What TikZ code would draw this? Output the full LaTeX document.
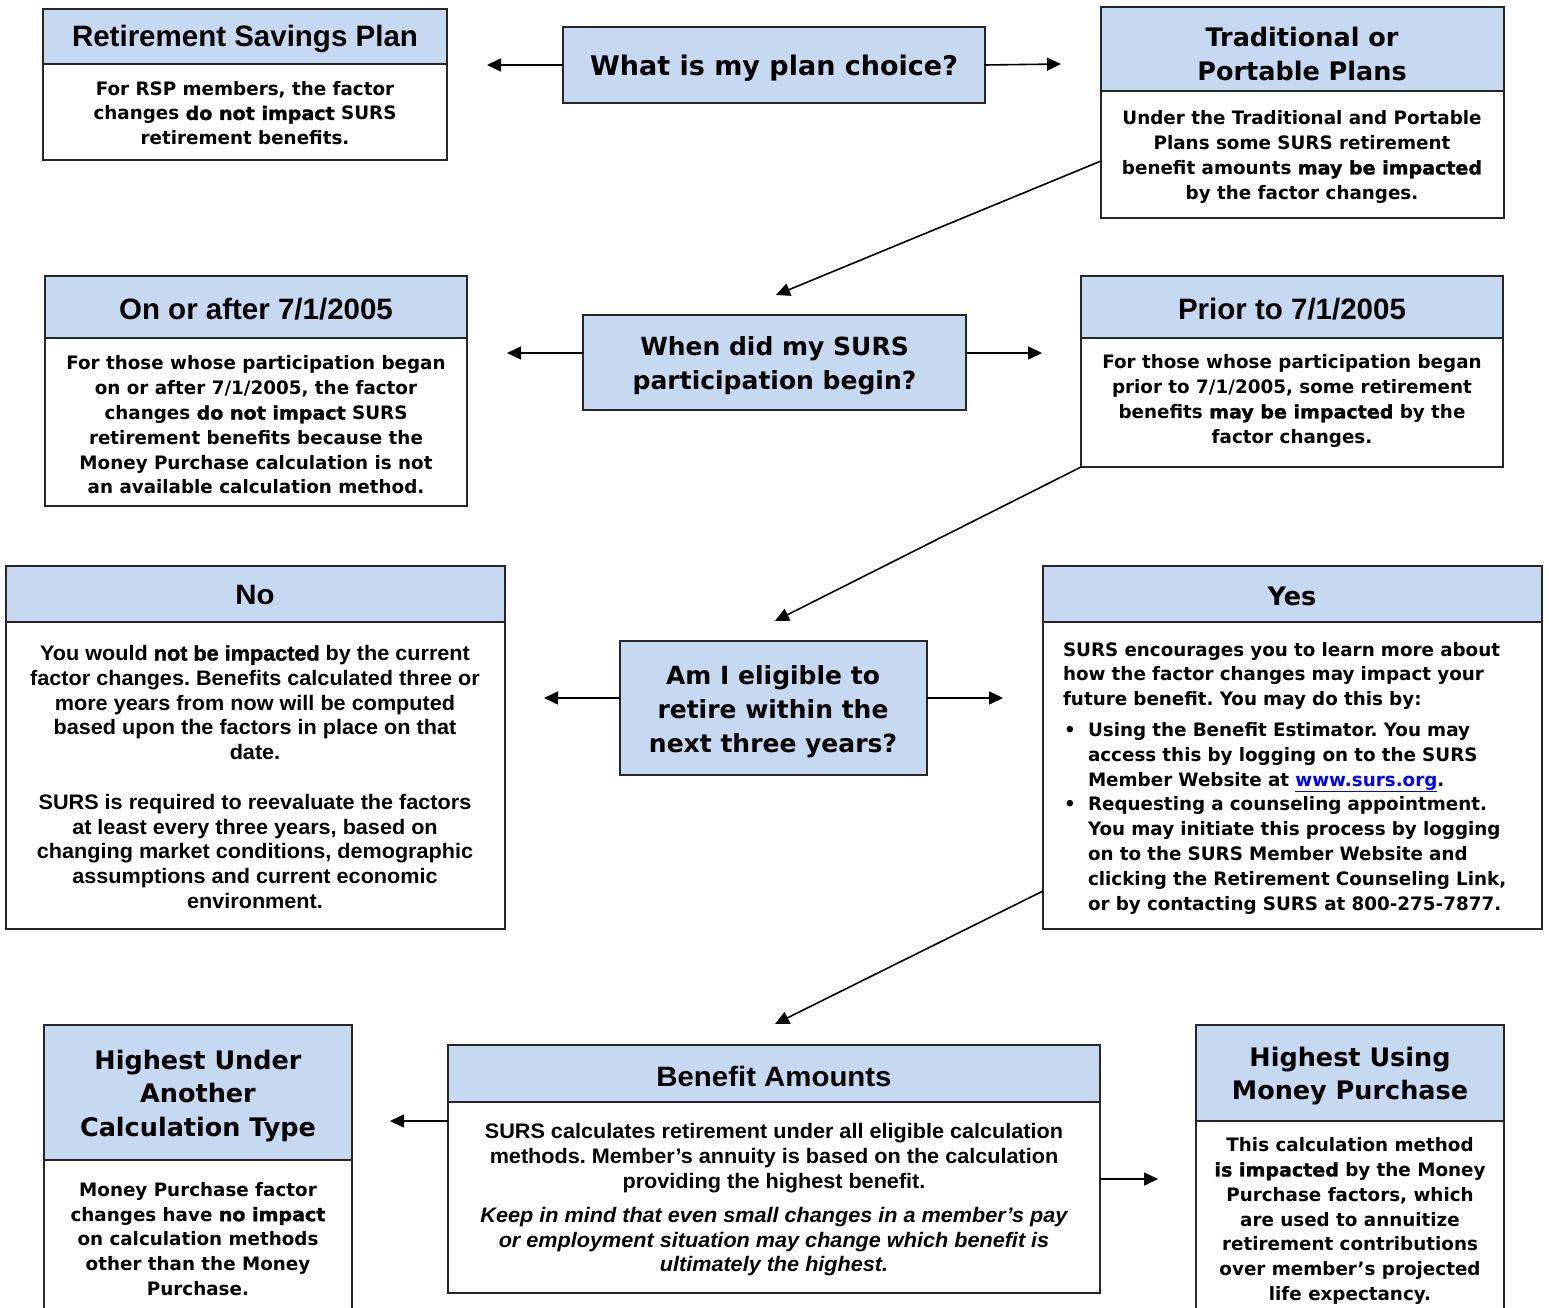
\documentclass[tikz,border=0pt]{standalone}
\usepackage{fontspec}
\usetikzlibrary{arrows.meta}
\setmainfont{DejaVu Sans}
\frenchspacing
\newfontfamily\tah{DejaVu Sans Bold}[FakeStretch=0.99]
\newfontfamily\tahem{DejaVu Sans Bold}[FakeStretch=1.03,FakeBold=1.6]
\newfontfamily\tahq{DejaVu Sans Bold}[FakeStretch=1.0]
\newfontfamily\ari{Liberation Sans Bold}
\newfontfamily\nar{Liberation Sans Bold}[FakeStretch=1.03]
\newfontfamily\narH{Liberation Sans Bold}[FakeStretch=1.05]
\newfontfamily\narem{Liberation Sans Bold}[FakeStretch=1.03,FakeBold=1.6]
\newfontfamily\narit{Liberation Sans Bold Italic}[FakeStretch=1.03]
\newcommand\emT[1]{{\tahem #1}}
\newcommand\emN[1]{{\narem #1}}
\newcommand\itN[1]{{\narit #1}}
\newcommand\fBody{\tah\fontsize{18.5}{24.8}\selectfont\frenchspacing}
\newcommand\fNar{\nar\fontsize{21}{24.8}\selectfont\frenchspacing}
\newcommand\fQ{\tahq\fontsize{25}{34}\selectfont}
\newcommand\fWhat{\tahq\fontsize{27}{34}\selectfont}
\newcommand\fHead{\tahq\fontsize{25.5}{33.5}\selectfont}
\newcommand\fAri{\ari\fontsize{29.5}{30}\selectfont}
\newcommand\fNarH{\narH\fontsize{28}{30}\selectfont}
\definecolor{hblue}{RGB}{198,217,241}
\definecolor{linkblue}{RGB}{0,0,255}
\tikzset{
  box/.style={draw=black!85, line width=1.8pt, inner sep=0pt, outer sep=0pt, anchor=north west},
  hdr/.style={box, fill=hblue},
  bodybox/.style={box, fill=white},
  qbox/.style={box, fill=hblue},
  txt/.style={align=center, inner sep=0pt, text=black},
  arr/.style={line width=1.6pt, draw=black, -{Triangle[length=14pt,width=13pt]}}
}
\begin{document}
\begin{tikzpicture}[x=1pt,y=-1pt]
\useasboundingbox (0,0) rectangle (1549,1308);
\clip (0,0) rectangle (1549,1308);
\fill[white] (0,0) rectangle (1549,1308);

% boxes
\node[bodybox, minimum width=404pt, minimum height=96pt] (rspb) at (43,64) {};
\node[hdr, minimum width=404pt, minimum height=55pt] (rsph) at (43,9) {};
\node[qbox, minimum width=422pt, minimum height=76pt] (what) at (563,27) {};
\node[bodybox, minimum width=403pt, minimum height=127pt] (tradb) at (1101,91) {};
\node[hdr, minimum width=403pt, minimum height=84pt] (tradh) at (1101,7) {};
\node[bodybox, minimum width=422pt, minimum height=168pt] (onb) at (45,338) {};
\node[hdr, minimum width=422pt, minimum height=62pt] (onh) at (45,276) {};
\node[qbox, minimum width=383pt, minimum height=95pt] (when) at (583,315) {};
\node[bodybox, minimum width=422pt, minimum height=129pt] (prb) at (1081,338) {};
\node[hdr, minimum width=422pt, minimum height=62pt] (prh) at (1081,276) {};
\node[bodybox, minimum width=499pt, minimum height=307pt] (nob) at (6,622) {};
\node[hdr, minimum width=499pt, minimum height=56pt] (noh) at (6,566) {};
\node[qbox, minimum width=307pt, minimum height=134pt] (am) at (620,641) {};
\node[bodybox, minimum width=499pt, minimum height=307pt] (yesb) at (1043,622) {};
\node[hdr, minimum width=499pt, minimum height=56pt] (yesh) at (1043,566) {};
\node[bodybox, minimum width=308pt, minimum height=170pt] (hub) at (44,1160) {};
\node[hdr, minimum width=308pt, minimum height=135pt] (huh) at (44,1025) {};
\node[bodybox, minimum width=652pt, minimum height=191pt] (benb) at (448,1102) {};
\node[hdr, minimum width=652pt, minimum height=57pt] (benh) at (448,1045) {};
\node[bodybox, minimum width=308pt, minimum height=210pt] (hmb) at (1196,1121) {};
\node[hdr, minimum width=308pt, minimum height=96pt] (hmh) at (1196,1025) {};

% texts
\node[txt, font=\fAri] (rspht) at (245,39) {Retirement Savings Plan};
\node[txt, font=\fBody] (rspbt) at (245,113) {For RSP members, the factor\\changes \emT{do not impact} SURS\\retirement benefits.};
\node[txt, font=\fWhat] (whatt) at (774,68) {What is my plan choice?};
\node[txt, font=\fHead] (tradht) at (1302,54) {Traditional or\\Portable Plans};
\node[txt, font=\fBody] (tradbt) at (1302,157) {Under the Traditional and Portable\\Plans some SURS retirement\\benefit amounts \emT{may be impacted}\\by the factor changes.};
\node[txt, font=\fAri] (onht) at (256,309) {On or after 7/1/2005};
\node[txt, font=\fBody] (onbt) at (256,425) {For those whose participation began\\on or after 7/1/2005, the factor\\changes \emT{do not impact} SURS\\retirement benefits because the\\Money Purchase calculation is not\\an available calculation method.};
\node[txt, font=\fQ] (whent) at (774.5,366) {When did my SURS\\participation begin?};
\node[txt, font=\fAri] (prht) at (1292,309) {Prior to 7/1/2005};
\node[txt, font=\fBody] (prbt) at (1292,401) {For those whose participation began\\prior to 7/1/2005, some retirement\\benefits \emT{may be impacted} by the\\factor changes.};
\node[txt, font=\fNarH] (noht) at (255,595) {No};
\node[txt, font=\fNar] (nobt) at (255,777) {You would \emN{not be impacted} by the current\\factor changes. Benefits calculated three or\\more years from now will be computed\\based upon the factors in place on that\\date.\\[24.8pt]SURS is required to reevaluate the factors\\at least every three years, based on\\changing market conditions, demographic\\assumptions and current economic\\environment.};
\node[txt, font=\fQ] (amt) at (773,712) {Am I eligible to\\retire within the\\next three years?};
\node[txt, font=\fHead] (yesht) at (1292,596) {Yes};
\node[txt, font=\fBody, align=left, text width=459pt] (yesbt) at (1292.5,778) {SURS encourages you to learn more about\\how the factor changes may impact your\\future benefit. You may do this by:\\[6pt]
\makebox[25pt][l]{\hspace{1pt}•}Using the Benefit Estimator. You may\\
\hspace*{25pt}access this by logging on to the SURS\\
\hspace*{25pt}Member Website at {\color{linkblue}\underline{www.surs.org}}.\\
\makebox[25pt][l]{\hspace{1pt}•}Requesting a counseling appointment.\\
\hspace*{25pt}You may initiate this process by logging\\
\hspace*{25pt}on to the SURS Member Website and\\
\hspace*{25pt}clicking the Retirement Counseling Link,\\
\hspace*{25pt}or by contacting SURS at 800-275-7877.};
\node[txt, font=\fHead] (huht) at (198,1096) {Highest Under\\Another\\Calculation Type};
\node[txt, font=\fBody] (hubt) at (198,1239) {Money Purchase factor\\changes have \emT{no impact}\\on calculation methods\\other than the Money\\Purchase.};
\node[txt, font=\fNarH] (benht) at (774,1076) {Benefit Amounts};
\node[txt, font=\fNar] (benbt) at (774,1200) {SURS calculates retirement under all eligible calculation\\methods. Member’s annuity is based on the calculation\\providing the highest benefit.\\[9pt]\itN{Keep in mind that even small changes in a member’s pay}\\\itN{or employment situation may change which benefit is}\\\itN{ultimately the highest.}};
\node[txt, font=\fHead] (hmht) at (1350,1076) {Highest Using\\Money Purchase};
\node[txt, font=\fBody] (hmbt) at (1350,1221) {This calculation method\\\emT{is impacted} by the Money\\Purchase factors, which\\are used to annuitize\\retirement contributions\\over member’s projected\\life expectancy.};

% arrow ends
\coordinate (e1) at (487,65);
\coordinate (e2) at (1061,64);
\coordinate (e3) at (776,295);
\coordinate (e4) at (507,353);
\coordinate (e5) at (1042,353);
\coordinate (e6) at (775,621);
\coordinate (e7) at (544,698);
\coordinate (e8) at (1003,698);
\coordinate (e9) at (775,1024);
\coordinate (e10) at (390,1121);
\coordinate (e11) at (1158,1179);

\draw[arr] (what.west) -- (e1);
\draw[arr] (what.east) -- (e2);
\draw[arr] ([yshift=-6.5pt]tradb.west) -- (e3);
\draw[arr] ([yshift=9.5pt]when.west) -- (e4);
\draw[arr] ([yshift=9.5pt]when.east) -- (e5);
\draw[arr] (prb.south west) -- (e6);
\draw[arr] ([yshift=10pt]am.west) -- (e7);
\draw[arr] ([yshift=10pt]am.east) -- (e8);
\draw[arr] ([yshift=38pt]yesb.south west) -- (e9);
\draw[arr] ([yshift=-19pt]benb.north west) -- (e10);
\draw[arr] ([yshift=18.5pt]benb.east) -- (e11);
\end{tikzpicture}
\end{document}
